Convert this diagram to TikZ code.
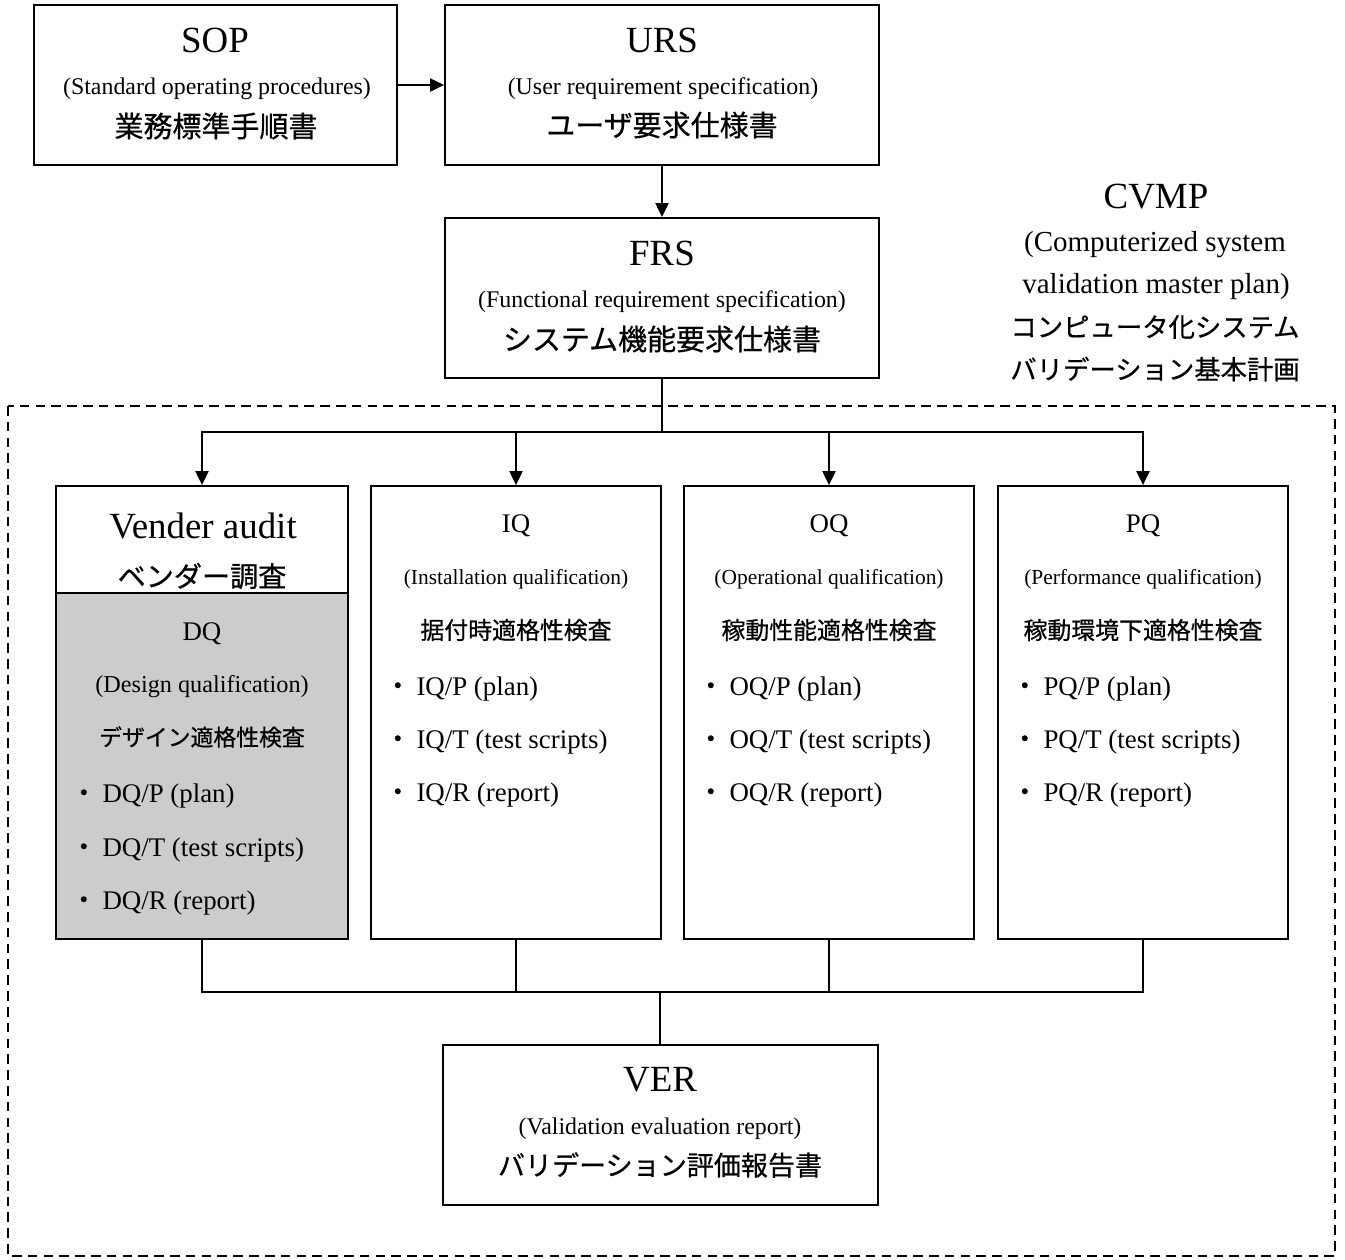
\documentclass[tikz,border=0pt]{standalone}
\usepackage{fontspec}
\setmainfont{Liberation Serif}
\newfontfamily\jp{Noto Sans CJK JP}[FakeBold=0.6]
\usetikzlibrary{arrows.meta}

\newcommand{\fs}[1]{\fontsize{#1}{#1}\selectfont}

\tikzset{
  box/.style={draw, line width=1.1pt, inner sep=0pt},
  wire/.style={line width=1pt},
  arr/.style={wire, -{Triangle[length=8pt,width=7.5pt]}},
  txt/.style={inner sep=0pt},
  title/.style={txt, font=\fs{21pt}},
  paren/.style={txt, font=\fs{13.6pt}},
  jptext/.style={txt, font=\jp\fs{16.5pt}},
  qtitle/.style={txt, font=\fs{15.3pt}},
  qparen/.style={txt, font=\fs{12.2pt}},
  qjp/.style={txt, font=\jp\fs{13.6pt}},
  bullet/.style={txt, anchor=west, font=\fs{15.3pt}},
}

\begin{document}
\begin{tikzpicture}[x=0.02cm, y=-0.02cm]
    \useasboundingbox (0,0) rectangle (1345,1259);
    \draw [line width=0.9pt, dash pattern=on 5.5pt off 3.5pt] (8,406) rectangle (1335,1256);

    % upper chain
    \node[box, minimum width=7.26cm, minimum height=3.2cm] (sop) at (215.5,85) {};
    \node[box, minimum width=8.68cm, minimum height=3.2cm] (urs) at (662,85) {};
    \node[box, minimum width=8.68cm, minimum height=3.2cm] (frs) at (662,298) {};
    \node[title] (sopT) at (215,40) {SOP};
    \node[paren] (sopE) at (217,89) {(Standard operating procedures)};
    \node[jptext] (sopJ) at (216,126) {業務標準手順書};
    \node[title] (ursT) at (662,40) {URS};
    \node[paren] (ursE) at (663,89) {(User requirement specification)};
    \node[jptext] (ursJ) at (662,125) {ユーザ要求仕様書};
    \node[title] (frsT) at (662,253) {FRS};
    \node[paren] (frsE) at (662,302) {(Functional requirement specification)};
    \node[jptext] (frsJ) at (662,339) {システム機能要求仕様書};
    \draw [arr] (sop) -- (urs);
    \draw [arr] (urs) -- (frs);

    \node[title] (cvT) at (1156,197) {CVMP};
    \node[txt, font=\fs{16.5pt}] (cvA) at (1155,245) {(Computerized system};
    \node[txt, font=\fs{16.5pt}] (cvB) at (1156,287) {validation master plan)};
    \node[txt, font=\jp\fs{15pt}] (cvC) at (1155,327) {コンピュータ化システム};
    \node[txt, font=\jp\fs{15pt}] (cvD) at (1155,369) {バリデーション基本計画};

    % vender audit / DQ
    \node[box, minimum width=5.84cm, minimum height=2.14cm] (vend) at (202,539.5) {};
    \node[box, fill=black!20, minimum width=5.84cm, minimum height=6.92cm] (dq) at (202,766) {};
    \node[title] (vendT) at (203,526) {Vender audit};
    \node[jptext, font=\jp\fs{16pt}] (vendJ) at (202,576) {ベンダー調査};
    \node[qtitle] (dqT) at (202,634) {DQ};
    \node[txt, font=\fs{13.8pt}] (dqE) at (202,687) {(Design qualification)};
    \node[qjp, font=\jp\fs{13pt}] (dqJ) at (202,737) {デザイン適格性検査};
    \foreach \k/\y/\s in {P/796/plan, T/850/test scripts, R/903/report} {
        \node[bullet] (dq\k) at (70,\y) {{\jp ・}\hspace{3pt}DQ/\k\ (\s)};
    }

    % IQ, OQ, PQ
    \foreach \n/\q/\x/\e/\j in {iq/IQ/516/Installation/据付時適格性検査,
                                oq/OQ/829/Operational/稼動性能適格性検査,
                                pq/PQ/1143/Performance/稼動環境下適格性検査} {
        \node[box, minimum width=5.8cm, minimum height=9.06cm] (\n) at (\x,712.5) {};
        \node[qtitle] (\n T) at (\x,526) {\q};
        \node[qparen] (\n E) at (\x,579) {(\e\ qualification)};
        \node[qjp] (\n J) at (\x,630) {\j};
        \foreach \k/\y/\s in {P/689/plan, T/742/test scripts, R/795/report} {
            \node[bullet] (\n\k) at (\x-132,\y) {{\jp ・}\hspace{3pt}\q/\k\ (\s)};
        }
    }

    \node[box, minimum width=8.7cm, minimum height=3.2cm] (ver) at (660.5,1125) {};
    \node[title] (verT) at (660,1080) {VER};
    \node[paren] (verE) at (660,1129) {(Validation evaluation report)};
    \node[jptext, font=\jp\fs{15.4pt}] (verJ) at (660,1165) {バリデーション評価報告書};

    % branches
    \coordinate (split) at (662,432);
    \coordinate (join) at (660,992);
    \draw [wire] (frs) -- (split);
    \foreach \n in {vend,iq,oq,pq} {
        \draw [arr] (split) -| (\n.north);
    }
    \foreach \n in {dq,iq,oq,pq} {
        \draw [wire] (\n.south) |- (join);
    }
    \draw [wire] (join) -- (join |- ver.north);
\end{tikzpicture}
\end{document}
